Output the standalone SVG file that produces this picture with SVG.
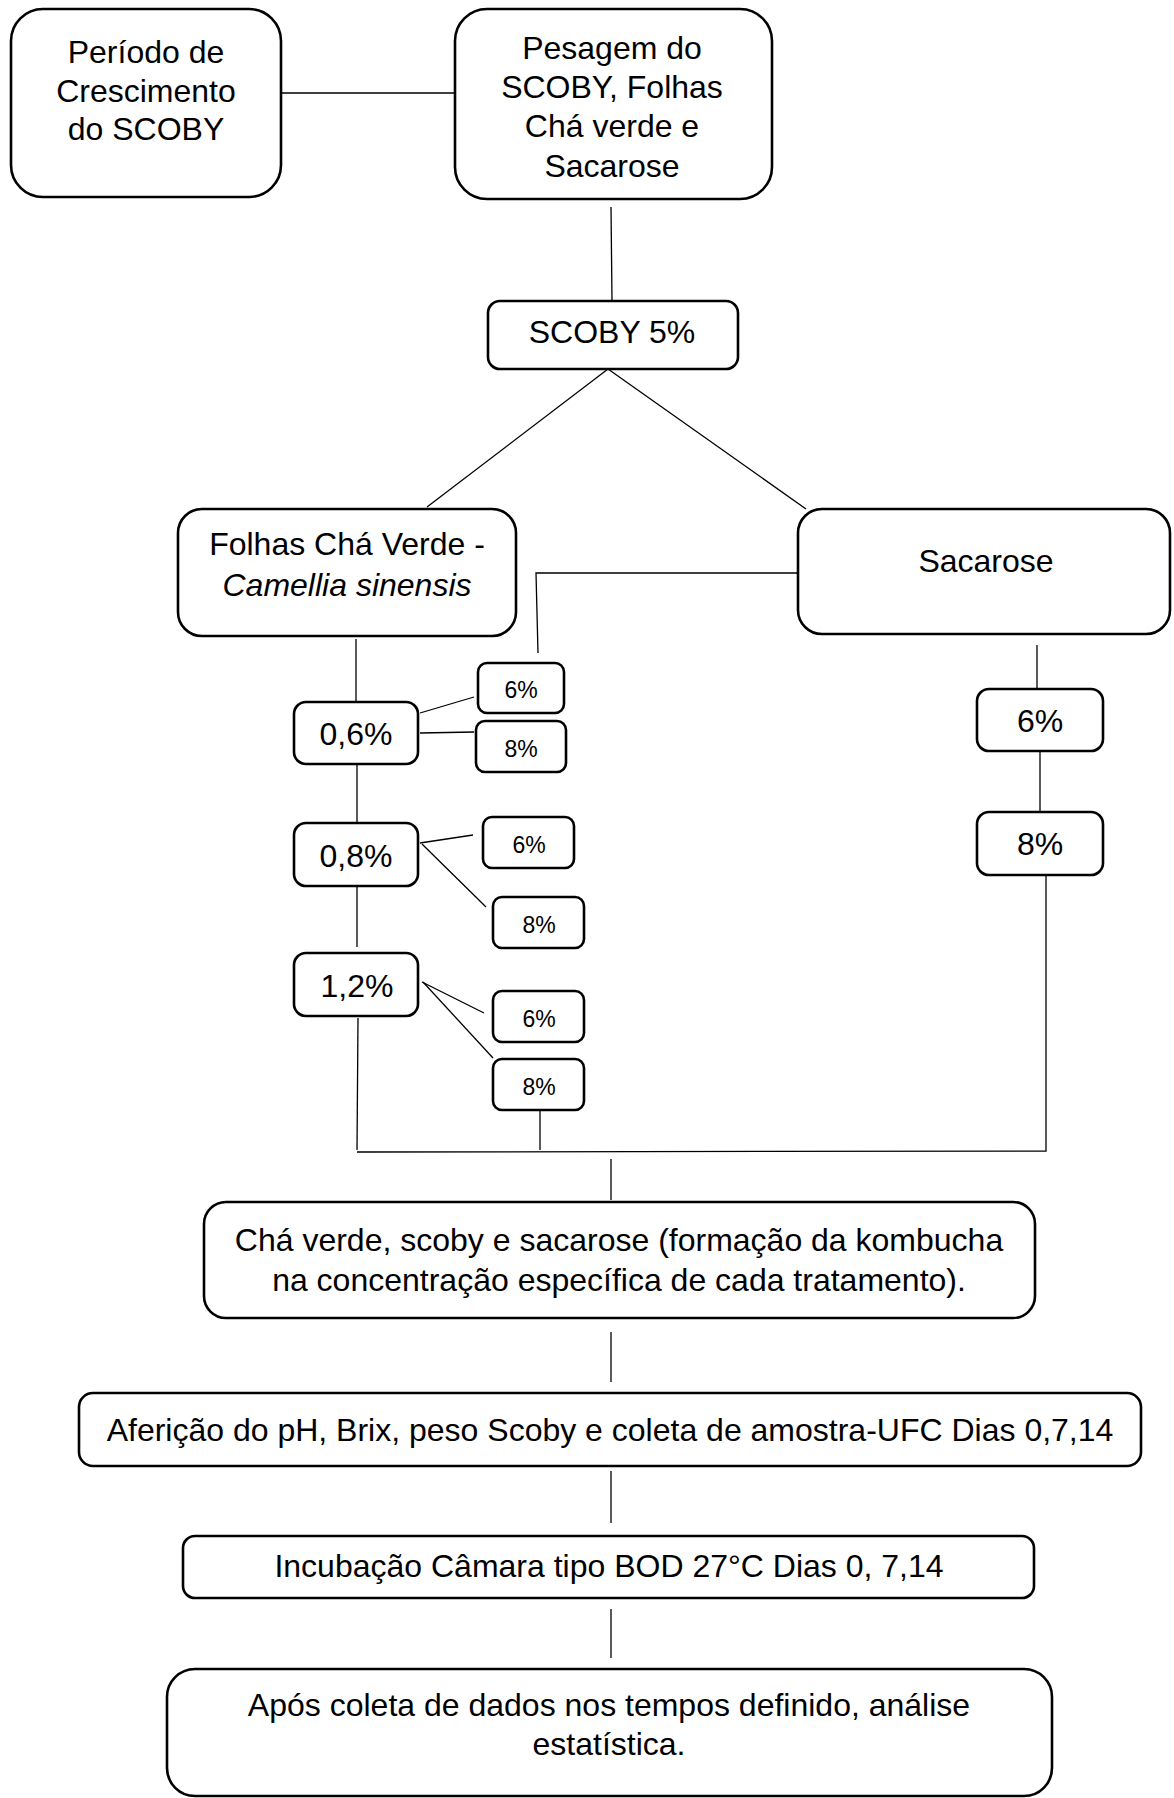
<svg xmlns="http://www.w3.org/2000/svg" width="1174" height="1798" viewBox="0 0 1174 1798">
<style>
.box{fill:#fff;stroke:#000;stroke-width:2.6}
.t{font-family:"Liberation Sans",Arial,sans-serif;font-size:32px;fill:#000;text-anchor:middle}
.s{font-family:"Liberation Sans",Arial,sans-serif;font-size:23px;fill:#000;text-anchor:middle}
.c line,.c polyline{stroke:#000;stroke-width:1.3;fill:none}
</style>
<rect width="1174" height="1798" fill="#fff"/>
<g class="c" id="connectors">
<line x1="281" y1="93" x2="455" y2="93"/>
<line x1="611" y1="207" x2="612" y2="301"/>
<line x1="608" y1="369" x2="427" y2="507"/>
<line x1="608" y1="369" x2="806" y2="509"/>
<polyline points="798,573 536,573 538,653"/>
<line x1="356" y1="639" x2="356" y2="701"/>
<line x1="420" y1="713" x2="474" y2="697"/>
<line x1="420" y1="733" x2="474" y2="732"/>
<line x1="357" y1="765" x2="357" y2="823"/>
<line x1="420" y1="843" x2="473" y2="835"/>
<line x1="422" y1="844" x2="486" y2="907"/>
<line x1="357" y1="887" x2="357" y2="947"/>
<line x1="422" y1="982" x2="484" y2="1013"/>
<line x1="423" y1="982" x2="493" y2="1058"/>
<line x1="358" y1="1018" x2="357" y2="1150"/>
<line x1="540" y1="1111" x2="540" y2="1150"/>
<polyline points="357,1152 1046,1151 1046,875"/>
<line x1="1037" y1="645" x2="1037" y2="689"/>
<line x1="1040" y1="751" x2="1040" y2="812"/>
<line x1="611" y1="1159" x2="611" y2="1200"/>
<line x1="611" y1="1332" x2="611" y2="1382"/>
<line x1="611" y1="1471" x2="611" y2="1523"/>
<line x1="611" y1="1609" x2="611" y2="1658"/>
</g>
<g id="periodo"><rect class="box" x="11" y="9" width="270" height="188" rx="32"/>
<text class="t" x="146" y="63">Período de</text><text class="t" x="146" y="102">Crescimento</text><text class="t" x="146" y="140">do SCOBY</text></g>
<g id="pesagem"><rect class="box" x="455" y="9" width="317" height="190" rx="32"/>
<text class="t" x="612" y="59">Pesagem do</text><text class="t" x="612" y="98">SCOBY, Folhas</text><text class="t" x="612" y="137">Chá verde e</text><text class="t" x="612" y="177">Sacarose</text></g>
<g id="scoby5"><rect class="box" x="488" y="301" width="250" height="68" rx="12"/>
<text class="t" x="612" y="343">SCOBY 5%</text></g>
<g id="folhas"><rect class="box" x="178" y="509" width="338" height="127" rx="24"/>
<text class="t" x="347" y="555">Folhas Chá Verde -</text><text class="t" x="347" y="596" font-style="italic">Camellia sinensis</text></g>
<g id="sacarose"><rect class="box" x="798" y="509" width="372" height="125" rx="24"/>
<text class="t" x="986" y="572">Sacarose</text></g>
<g id="c06"><rect class="box" x="294" y="702" width="124" height="62" rx="12"/><text class="t" x="356" y="745">0,6%</text></g>
<g id="c06s6"><rect class="box" x="478" y="663" width="86" height="50" rx="9"/><text class="s" x="521" y="698">6%</text></g>
<g id="c06s8"><rect class="box" x="476" y="721" width="90" height="51" rx="9"/><text class="s" x="521" y="757">8%</text></g>
<g id="c08"><rect class="box" x="294" y="823" width="124" height="63" rx="12"/><text class="t" x="356" y="867">0,8%</text></g>
<g id="c08s6"><rect class="box" x="483" y="817" width="91" height="51" rx="9"/><text class="s" x="529" y="853">6%</text></g>
<g id="c08s8"><rect class="box" x="493" y="897" width="91" height="51" rx="9"/><text class="s" x="539" y="933">8%</text></g>
<g id="c12"><rect class="box" x="294" y="953" width="124" height="63" rx="12"/><text class="t" x="357" y="997">1,2%</text></g>
<g id="c12s6"><rect class="box" x="493" y="991" width="91" height="51" rx="9"/><text class="s" x="539" y="1027">6%</text></g>
<g id="c12s8"><rect class="box" x="493" y="1059" width="91" height="51" rx="9"/><text class="s" x="539" y="1095">8%</text></g>
<g id="sac6"><rect class="box" x="977" y="689" width="126" height="62" rx="12"/><text class="t" x="1040" y="732">6%</text></g>
<g id="sac8"><rect class="box" x="977" y="812" width="126" height="63" rx="12"/><text class="t" x="1040" y="855">8%</text></g>
<g id="cha"><rect class="box" x="204" y="1202" width="831" height="116" rx="22"/>
<text class="t" x="619" y="1251">Chá verde, scoby e sacarose (formação da kombucha</text><text class="t" x="619" y="1291">na concentração específica de cada tratamento).</text></g>
<g id="afericao"><rect class="box" x="79" y="1393" width="1062" height="73" rx="14"/>
<text class="t" x="610" y="1441">Aferição do pH, Brix, peso Scoby e coleta de amostra-UFC Dias 0,7,14</text></g>
<g id="incubacao"><rect class="box" x="183" y="1536" width="851" height="62" rx="12"/>
<text class="t" x="609" y="1577">Incubação Câmara tipo BOD 27°C Dias 0, 7,14</text></g>
<g id="apos"><rect class="box" x="167" y="1669" width="885" height="127" rx="28"/>
<text class="t" x="609" y="1716">Após coleta de dados nos tempos definido, análise</text><text class="t" x="609" y="1755">estatística.</text></g>
</svg>
